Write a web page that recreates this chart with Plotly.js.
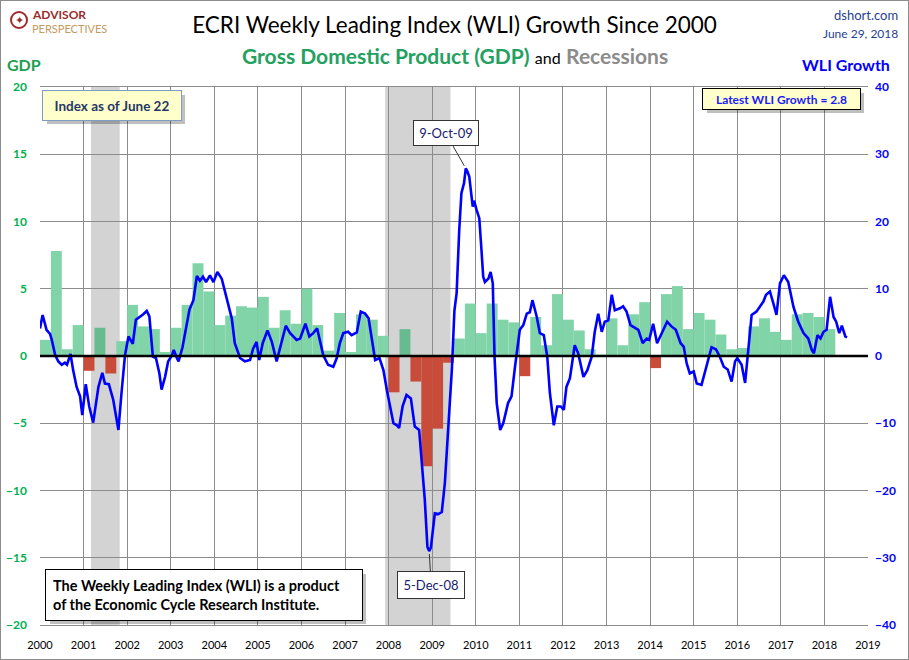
<!DOCTYPE html>
<html>
<head>
<meta charset="utf-8">
<script src="https://cdn.plot.ly/plotly-3.0.1.min.js"></script>
<style>
  html, body { margin: 0; padding: 0; background: #fff; }
  #wrap { position: relative; width: 909px; height: 660px; }
  #chart { width: 909px; height: 660px; }
  #frame { position: absolute; left: 0; top: 0; width: 907px; height: 658px; border: 1px solid #8c8c8c; pointer-events: none; }
</style>
</head>
<body>
<div id="wrap"><div id="chart"></div><div id="frame"></div></div>
<script>
// ---- Data ----
const gdpFirstYear = 2000;
// Real GDP growth, quarterly (annualized %), 2000Q1 .. 2018Q1
const gdpGrowth = [
  1.2, 7.8, 0.5, 2.3,
  -1.1, 2.1, -1.3, 1.1,
  3.8, 2.2, 2.0, 0.3,
  2.1, 3.8, 6.9, 4.8,
  2.3, 3.0, 3.7, 3.6,
  4.4, 2.1, 3.4, 2.4,
  5.0, 2.3, 0.4, 3.2,
  0.3, 3.1, 2.7, 1.5,
  -2.7, 2.0, -1.9, -8.2,
  -5.4, -0.5, 1.3, 3.9,
  1.7, 3.9, 2.7, 2.5,
  -1.5, 2.9, 0.8, 4.6,
  2.7, 1.9, 0.5, 0.1,
  2.8, 0.8, 3.1, 4.0,
  -0.9, 4.6, 5.2, 2.0,
  3.2, 2.7, 1.6, 0.5,
  0.6, 2.2, 2.8, 1.8,
  1.2, 3.1, 3.2, 2.9,
  2.0
];

// Recessions (decimal years)
const recessionStart = [2001.17, 2007.92];
const recessionEnd   = [2001.83, 2009.42];

// ECRI WLI growth, decimal year
const wliTime = [
  2000.00,2000.06,2000.15,2000.23,2000.27,2000.35,2000.42,2000.50,2000.57,2000.62,
  2000.70,2000.76,2000.84,2000.92,2000.97,2001.05,2001.13,2001.22,2001.34,2001.43,
  2001.49,2001.58,2001.68,2001.74,2001.80,2001.87,2001.95,2002.03,2002.13,2002.20,
  2002.29,2002.37,2002.45,2002.51,2002.59,2002.66,2002.74,2002.79,2002.87,2002.94,
  2003.02,2003.07,2003.14,2003.18,2003.27,2003.37,2003.43,2003.52,2003.60,2003.67,
  2003.74,2003.81,2003.90,2003.98,2004.07,2004.17,2004.28,2004.40,2004.47,2004.59,
  2004.70,2004.82,2004.89,2004.97,2005.03,2005.11,2005.22,2005.32,2005.43,2005.52,
  2005.64,2005.74,2005.80,2005.89,2005.97,2006.09,2006.18,2006.27,2006.36,2006.42,
  2006.50,2006.61,2006.73,2006.81,2006.88,2006.96,2007.07,2007.15,2007.27,2007.36,
  2007.46,2007.54,2007.61,2007.69,2007.79,2007.88,2007.96,2008.03,2008.11,2008.19,
  2008.24,2008.32,2008.41,2008.51,2008.60,2008.70,2008.76,2008.83,2008.89,2008.93,
  2008.97,2009.02,2009.06,2009.14,2009.22,2009.29,2009.37,2009.45,2009.51,2009.56,
  2009.62,2009.67,2009.73,2009.77,2009.81,2009.85,2009.93,2009.96,2010.02,2010.08,
  2010.13,2010.17,2010.21,2010.29,2010.34,2010.39,2010.43,2010.48,2010.56,2010.63,
  2010.74,2010.82,2010.90,2011.01,2011.09,2011.17,2011.24,2011.30,2011.40,2011.47,
  2011.56,2011.64,2011.70,2011.79,2011.87,2011.95,2012.02,2012.08,2012.16,2012.27,
  2012.35,2012.47,2012.56,2012.66,2012.73,2012.81,2012.89,2012.96,2013.04,2013.12,
  2013.19,2013.31,2013.38,2013.46,2013.55,2013.64,2013.73,2013.83,2013.92,2013.98,
  2014.07,2014.16,2014.26,2014.39,2014.49,2014.59,2014.70,2014.77,2014.84,2014.91,
  2015.00,2015.07,2015.18,2015.30,2015.41,2015.51,2015.60,2015.69,2015.78,2015.87,
  2015.95,2016.00,2016.10,2016.18,2016.25,2016.33,2016.44,2016.52,2016.60,2016.66,
  2016.75,2016.83,2016.90,2016.98,2017.07,2017.17,2017.29,2017.40,2017.52,2017.63,
  2017.71,2017.76,2017.84,2017.91,2017.98,2018.05,2018.13,2018.21,2018.27,2018.34,
  2018.40,2018.48,2018.52
];
const wliGrowth = [
  4.1,6.1,3.9,3.3,2.4,0.1,-0.8,-1.3,-1.0,-1.3,
  0.3,-2.1,-4.6,-6.0,-8.8,-4.2,-7.5,-9.9,-4.6,-2.5,
  -4.1,-4.2,-6.5,-9.0,-11.0,-5.5,0.1,2.9,1.8,5.4,
  5.8,6.2,6.7,5.9,-0.1,-0.3,-2.6,-5.0,-3.1,-0.8,
  0.0,0.9,-0.3,-0.8,1.3,4.6,6.9,8.3,11.9,11.2,
  11.8,11.0,12.0,11.0,12.5,11.5,8.8,5.6,1.9,-0.3,
  -0.8,-0.6,1.1,2.1,-0.6,1.9,3.8,2.1,-0.8,1.6,
  4.5,3.4,3.0,2.4,2.6,4.8,2.9,3.4,4.1,2.4,
  0.1,-1.3,-1.6,-0.3,1.9,3.4,3.6,3.1,3.5,6.6,
  6.3,5.6,2.9,-0.6,-0.3,-2.1,-5.1,-7.3,-10.0,-10.3,
  -10.7,-7.5,-5.8,-6.3,-10.5,-11.0,-15.5,-21.4,-28.4,-29.0,
  -28.5,-25.4,-23.4,-23.5,-23.2,-18.9,-11.0,-2.1,6.8,9.3,
  18.7,24.2,25.7,27.9,27.4,26.7,22.2,23.1,21.7,20.5,
  15.8,11.8,11.0,11.5,12.5,10.8,-0.1,-7.0,-11.0,-10.0,
  -7.0,-6.0,-1.6,3.9,4.6,6.3,6.5,8.3,5.8,3.4,
  3.1,-0.1,-5.5,-10.3,-7.5,-7.5,-8.0,-4.6,-3.3,1.6,
  0.4,-3.1,-2.1,-0.1,3.6,6.3,3.6,5.1,5.3,9.1,
  6.8,7.1,7.4,6.6,4.6,4.3,3.9,1.9,2.6,2.4,
  4.8,1.9,3.4,5.1,4.4,3.9,1.9,1.4,-1.1,-2.6,
  -2.3,-4.1,-4.3,-1.3,1.3,1.0,-0.1,-1.6,-2.0,-3.8,
  -0.8,-0.3,-1.3,-4.0,0.4,6.1,6.6,7.3,8.1,9.1,
  9.6,7.8,6.1,10.8,12.0,11.0,7.3,5.1,3.4,2.6,
  0.9,0.4,3.1,2.6,3.6,3.9,8.8,5.8,5.1,3.4,
  4.5,2.9,2.8
];

const xTickYears = [2000,2001,2002,2003,2004,2005,2006,2007,2008,2009,2010,2011,2012,2013,2014,2015,2016,2017,2018,2019];
const gdpTicks = [-20,-15,-10,-5,0,5,10,15,20];
const wliTicks = [-40,-30,-20,-10,0,10,20,30,40];

const peakLabel = '9-Oct-09';
const troughLabel = '5-Dec-08';
const latestLabel = 'Latest WLI Growth = ' + wliGrowth[wliGrowth.length - 1].toFixed(1);

// ---- Build ----
const FONT = 'Lato, "Open Sans", sans-serif';
const gdpX = gdpGrowth.map((v, i) => gdpFirstYear + i * 0.25 + 0.125);
const inRecession = t => recessionStart.some((s, k) => t >= s && t <= recessionEnd[k]);
const gdpColors = gdpGrowth.map((v, i) => v < 0 ? '#c94c3b' : (inRecession(gdpX[i]) ? '#68bb8e' : '#80d4a7'));

const bars = {
  type: 'bar', x: gdpX, y: gdpGrowth, width: 0.25, yaxis: 'y',
  marker: { color: gdpColors, line: { width: 0 } }, hoverinfo: 'x+y', name: 'GDP'
};
const line = {
  type: 'scatter', mode: 'lines', x: wliTime, y: wliGrowth, yaxis: 'y2',
  line: { color: '#0000ff', width: 2.6 }, name: 'WLI Growth'
};

let iMax = 0, iMin = 0;
wliGrowth.forEach((v, i) => { if (v > wliGrowth[iMax]) iMax = i; if (v < wliGrowth[iMin]) iMin = i; });

const px = p => (p - 40) / 828;
const py = p => (625 - p) / 538;

const shapes = recessionStart.map((s, k) => ({
  type: 'rect', xref: 'x', yref: 'paper', x0: s, x1: recessionEnd[k], y0: 0, y1: 1,
  fillcolor: '#d3d3d3', line: { width: 0 }, layer: 'below'
}));
shapes.push({ type: 'line', xref: 'paper', yref: 'y', x0: 0, x1: 1, y0: 0, y1: 0,
  line: { color: '#000', width: 2.5 }, layer: 'above' });
// logo compass
shapes.push({ type: 'circle', xref: 'paper', yref: 'paper',
  x0: px(11), x1: px(27), y0: py(28), y1: py(12),
  line: { color: '#9b2c2c', width: 2 }, fillcolor: 'rgba(0,0,0,0)' });

function ann(o) {
  return Object.assign({ xref: 'paper', yref: 'paper', xanchor: 'center', yanchor: 'middle', showarrow: false }, o);
}

function box(text, cx, cy, w, h, opts) {
  const pad = opts.borderpad || 0;
  return [
    ann({ x: px(cx + 4), y: py(cy + 4), width: w + 2 * pad, height: h + 2 * pad, text: ' ',
      bgcolor: 'rgba(0,0,0,0.25)', borderpad: 0, borderwidth: 0 }),
    ann(Object.assign({ x: px(cx), y: py(cy), width: w, height: h, text: text, borderpad: 0 }, opts))
  ];
}

const annotations = [
  ann({ x: px(455), y: py(55),
    text: '<b><span style="color:#24a060">Gross Domestic Product (GDP)</span></b> <span style="font-size:16px;color:#000">and</span> <b><span style="color:#8c8c8c">Recessions</span></b>',
    font: { family: FONT, size: 21 } }),
  ann({ x: px(24), y: py(65), text: '<b>GDP</b>', font: { family: FONT, size: 16, color: '#1e9e50' } }),
  ann({ x: px(846), y: py(65), text: '<b>WLI Growth</b>', font: { family: FONT, size: 16, color: '#0000ff' } }),
  ann({ x: px(900), y: py(15), xanchor: 'right', text: 'dshort.com', font: { family: FONT, size: 13, color: '#1f3f8f' } }),
  ann({ x: px(900), y: py(33), xanchor: 'right', text: 'June 29, 2018', font: { family: FONT, size: 12, color: '#1f3f8f' } }),
  ann({ x: px(30), y: py(14), xanchor: 'left', text: '<b>ADVISOR</b>', font: { family: FONT, size: 12, color: '#9b2c2c' } }),
  ann({ x: px(30), y: py(28.5), xanchor: 'left', text: 'PERSPECTIVES', font: { family: FONT, size: 11, color: '#c59a5e' } }),
  ann({ x: px(19), y: py(20), text: '✦', font: { family: 'DejaVu Sans', size: 11, color: '#9b2c2c' } }),
  ...box('<b>Index as of June 22</b>', 112, 106, 138, 29,
    { bgcolor: '#ffffcc', bordercolor: '#7f9cc4', borderwidth: 1, font: { family: FONT, size: 13.5, color: '#1f3864' } }),
  ...box('<b>' + latestLabel + '</b>', 781, 99, 157, 20,
    { bgcolor: '#ffffcc', bordercolor: '#000', borderwidth: 1, font: { family: FONT, size: 12, color: '#1a1aff' } }),
  ...box('<b>The Weekly Leading Index (WLI) is a product<br>of the Economic Cycle Research Institute.</b>', 204, 595, 302, 36,
    { bgcolor: '#ffffff', bordercolor: '#000', borderwidth: 1, borderpad: 7, align: 'left', font: { family: FONT, size: 14.5, color: '#000' } }),
  { xref: 'x', yref: 'y2', x: wliTime[iMax], y: wliGrowth[iMax], ax: -20, ay: -35, xanchor: 'center', yanchor: 'middle',
    text: peakLabel, showarrow: true, arrowhead: 0, arrowwidth: 1, arrowcolor: '#333', standoff: 3,
    bgcolor: '#fff', bordercolor: '#333', borderwidth: 1, borderpad: 4, width: 56,
    font: { family: FONT, size: 13, color: '#1a1a6e' } },
  { xref: 'x', yref: 'y2', x: wliTime[iMin], y: wliGrowth[iMin], ax: 2, ay: 34, xanchor: 'center', yanchor: 'middle',
    text: troughLabel, showarrow: true, arrowhead: 0, arrowwidth: 1, arrowcolor: '#333', standoff: 3,
    bgcolor: '#fff', bordercolor: '#333', borderwidth: 1, borderpad: 5, width: 56,
    font: { family: FONT, size: 13, color: '#1a1a6e' } }
];

const layout = {
  width: 909, height: 660,
  margin: { l: 40, r: 41, t: 87, b: 35 },
  paper_bgcolor: '#fff', plot_bgcolor: '#fff',
  showlegend: false,
  font: { family: FONT },
  title: { text: 'ECRI Weekly Leading Index (WLI) Growth Since 2000', xref: 'container', x: 0.5, xanchor: 'center',
    yref: 'container', y: 1 - 25 / 660, yanchor: 'middle', font: { family: FONT, size: 22.5, color: '#000' } },
  xaxis: {
    range: [2000, 2019], tickvals: xTickYears, ticktext: xTickYears.map(String),
    showgrid: true, gridcolor: '#8c8c8c', gridwidth: 1, zeroline: false,
    showline: true, linecolor: '#8c8c8c', linewidth: 1, mirror: true,
    ticks: '', ticklabelstandoff: 10, tickfont: { family: FONT, size: 11, color: '#000' }
  },
  yaxis: {
    range: [-20, 20], tickvals: gdpTicks, showgrid: true, gridcolor: '#8c8c8c', gridwidth: 1,
    zeroline: false, showline: false, ticks: '', ticklabelstandoff: 12,
    tickfont: { family: FONT, size: 12, color: '#00b050', weight: 'bold' }
  },
  yaxis2: {
    range: [-40, 40], tickvals: wliTicks, overlaying: 'y', side: 'right', showgrid: false,
    zeroline: false, showline: false, ticks: '', ticklabelstandoff: 6,
    tickfont: { family: FONT, size: 12, color: '#0000ff', weight: 'bold' }
  },
  shapes: shapes,
  annotations: annotations
};

Plotly.newPlot('chart', [bars, line], layout, { displayModeBar: false, staticPlot: true });
</script>
</body>
</html>
